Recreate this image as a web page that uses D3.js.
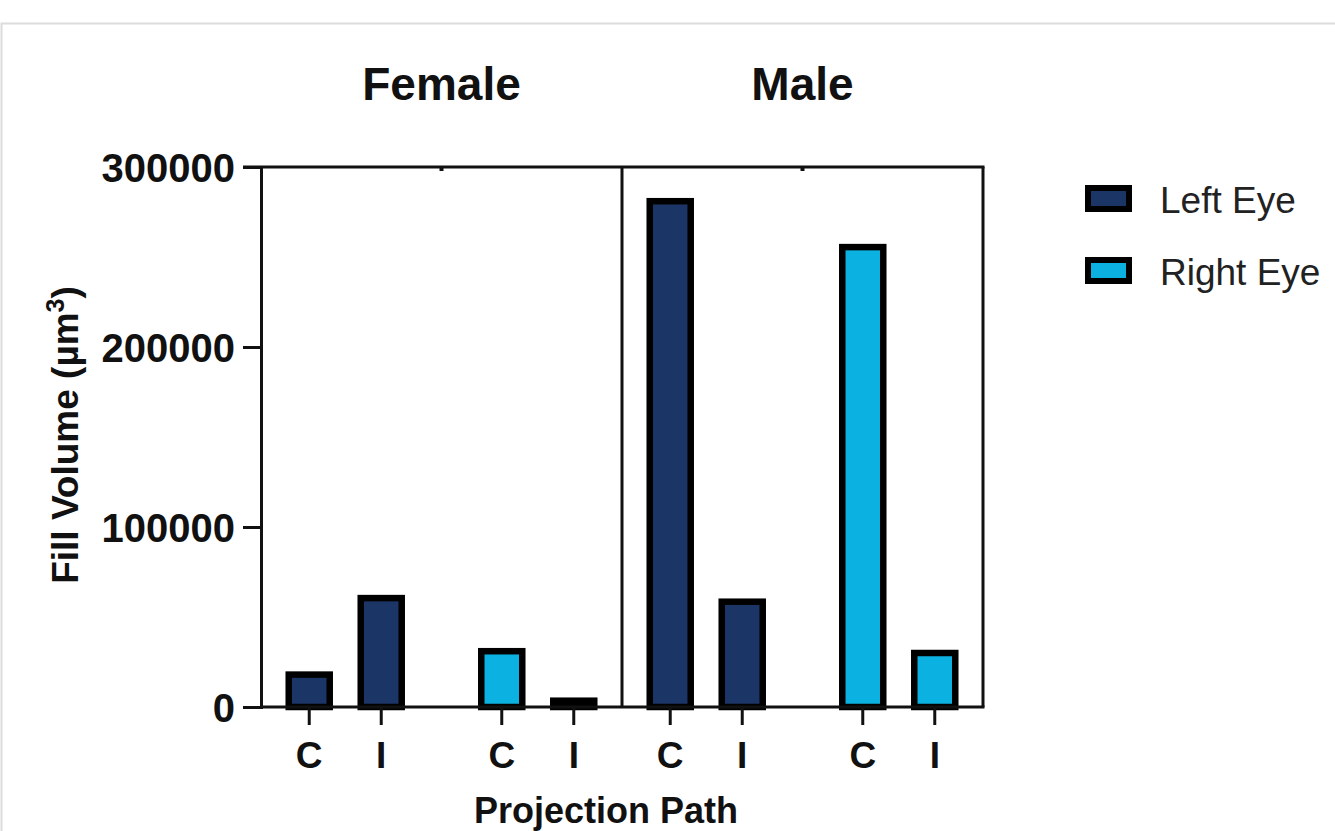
<!DOCTYPE html>
<html>
<head>
<meta charset="utf-8">
<script src="https://cdn.jsdelivr.net/npm/d3@7"></script>
<style>
  html, body { margin: 0; padding: 0; background: #fff; }
  svg { display: block; font-family: "Liberation Sans", Arial, Helvetica, sans-serif; }
</style>
</head>
<body>
<div id="chart"></div>
<script>
'use strict';

var sexes = ["Female", "Male"];
var eyes = ["Left Eye", "Right Eye"];
var paths = ["C", "I"];
var femaleLeft = [18000, 60500];
var femaleRight = [31000, 3500];
var maleLeft = [281000, 58500];
var maleRight = [255500, 30000];
var yTicks = [0, 100000, 200000, 300000];

var series = {
  "Female": { "Left Eye": femaleLeft, "Right Eye": femaleRight },
  "Male": { "Left Eye": maleLeft, "Right Eye": maleRight }
};

var data = [];
sexes.forEach(s => eyes.forEach(e => paths.forEach((p, i) => {
  data.push({ sex: s, eye: e, path: p, value: series[s][e][i] });
})));

var width = 1335, height = 831;
var plot = { left: 261, right: 983, top: 167, bottom: 707 };

var svg = d3.select("#chart").append("svg")
    .attr("width", width)
    .attr("height", height);

// card frame
svg.append("path")
    .attr("d", "M1.5," + (height + 5) + " L1.5,23.5 L" + (width + 5) + ",23.5")
    .attr("fill", "none")
    .attr("stroke", "#dcdcdc")
    .attr("stroke-width", 2);

var y = d3.scaleLinear().domain([0, 300000]).range([plot.bottom, plot.top]);

var xPanel = d3.scaleBand().domain(sexes).range([plot.left, plot.right]).padding(0);
var xEye = d3.scalePoint().domain(eyes).range([0, xPanel.bandwidth()]).padding(0.4375);
var xPath = d3.scalePoint().domain(paths).range([-36, 36]);

var colorea = d3.scaleOrdinal().domain(eyes).range(["#1c3567", "#0bb2e1"]);

var xPos = d => xPanel(d.sex) + xEye(d.eye) + xPath(d.path);

var barW = 41;

// bars
svg.append("g")
  .selectAll("rect")
  .data(data)
  .join("rect")
    .attr("x", d => xPos(d) - barW / 2)
    .attr("y", d => y(d.value))
    .attr("width", barW)
    .attr("height", d => y(0) - y(d.value))
    .attr("fill", d => colorea(d.eye))
    .attr("stroke", "#000")
    .attr("stroke-width", 6.5);

// frame of plot
var frame = svg.append("g").attr("stroke", "#111").attr("stroke-width", 3).attr("fill", "none");
frame.append("line").attr("x1", plot.left - 18).attr("x2", plot.right + 1.5).attr("y1", plot.top).attr("y2", plot.top);
frame.append("line").attr("x1", plot.right).attr("x2", plot.right).attr("y1", plot.top).attr("y2", plot.bottom);
frame.append("line").attr("x1", xPanel("Male")).attr("x2", xPanel("Male")).attr("y1", plot.top).attr("y2", plot.bottom);

// y axis
var yAxis = svg.append("g")
    .attr("transform", "translate(" + plot.left + ",0)")
    .call(d3.axisLeft(y).tickValues(yTicks).tickFormat(d3.format("d")).tickSize(18).tickPadding(8));
yAxis.select(".domain").attr("stroke", "#111").attr("stroke-width", 3);
yAxis.selectAll(".tick line").attr("stroke", "#111").attr("stroke-width", 3);
yAxis.selectAll(".tick text")
    .attr("fill", "#111")
    .style("font-size", "40px")
    .style("font-weight", "bold")
    .attr("dy", "0.36em");

// x axis baseline
svg.append("line")
    .attr("x1", plot.left).attr("x2", plot.right + 1.5)
    .attr("y1", y(0)).attr("y2", y(0))
    .attr("stroke", "#111").attr("stroke-width", 3);

// x ticks and labels
var xt = svg.append("g").selectAll("g")
  .data(data)
  .join("g")
    .attr("transform", d => "translate(" + xPos(d) + "," + y(0) + ")");
xt.append("line").attr("y1", 0).attr("y2", 18).attr("stroke", "#111").attr("stroke-width", 3);
xt.append("text")
    .attr("y", 61)
    .attr("text-anchor", "middle")
    .attr("fill", "#111")
    .style("font-size", "37px")
    .style("font-weight", "bold")
    .text(d => d.path);

// small top marks at panel centres
svg.append("g").selectAll("rect")
  .data(sexes)
  .join("rect")
    .attr("x", d => xPanel(d) + xPanel.bandwidth() / 2 - 2)
    .attr("y", plot.top)
    .attr("width", 4)
    .attr("height", 4)
    .attr("fill", "#111");

// panel titles
svg.append("g").selectAll("text")
  .data(sexes)
  .join("text")
    .attr("x", d => xPanel(d) + xPanel.bandwidth() / 2)
    .attr("y", 100)
    .attr("text-anchor", "middle")
    .attr("fill", "#111")
    .style("font-size", "46px")
    .style("font-weight", "bold")
    .text(d => d);

// axis titles
svg.append("text")
    .attr("x", (plot.left + plot.right) / 2 - 16)
    .attr("y", 823)
    .attr("text-anchor", "middle")
    .attr("fill", "#111")
    .style("font-size", "36px")
    .style("font-weight", "bold")
    .text("Projection Path");

var yl = svg.append("text")
    .attr("transform", "translate(78," + 435 + ") rotate(-90)")
    .attr("text-anchor", "middle")
    .attr("fill", "#111")
    .style("font-size", "37px")
    .style("font-weight", "bold");
yl.append("tspan").text("Fill Volume (µm");
yl.append("tspan").attr("dy", -14).style("font-size", "25px").text("3");
yl.append("tspan").attr("dy", 14).text(")");

// legend
var legend = svg.append("g").selectAll("g")
  .data(eyes)
  .join("g")
    .attr("transform", (d, i) => "translate(1088," + (188 + i * 72) + ")");
legend.append("rect")
    .attr("width", 41)
    .attr("height", 21)
    .attr("fill", d => colorea(d))
    .attr("stroke", "#000")
    .attr("stroke-width", 6);
legend.append("text")
    .attr("x", 72)
    .attr("y", 25)
    .attr("fill", "#222")
    .style("font-size", "37px")
    .text(d => d);
</script>
</body>
</html>
